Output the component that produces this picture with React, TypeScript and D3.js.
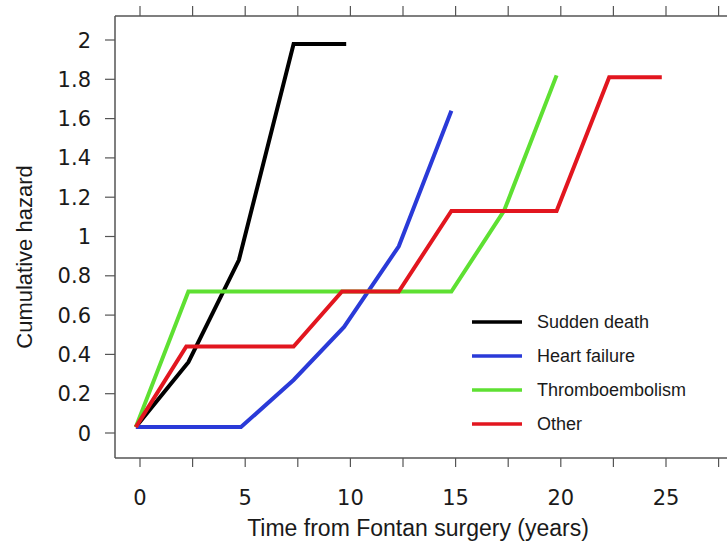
import React from 'react';
import * as d3 from 'd3';

// series: [years, cumulative hazard]
const suddenDeath: [number, number][] = [[-0.2, 0.03], [2.3, 0.36], [4.7, 0.88], [7.3, 1.98], [9.8, 1.98]];
const heartFailure: [number, number][] = [[-0.2, 0.03], [4.8, 0.03], [7.3, 0.27], [9.7, 0.54], [12.3, 0.95], [14.8, 1.64]];
const thromboembolism: [number, number][] = [[-0.2, 0.03], [2.3, 0.72], [14.8, 0.72], [17.3, 1.13], [19.8, 1.82]];
const other: [number, number][] = [[-0.2, 0.03], [2.2, 0.44], [7.3, 0.44], [9.6, 0.72], [12.3, 0.72], [14.8, 1.13], [19.8, 1.13], [22.3, 1.81], [24.8, 1.81]];

const seriesNames = ['Sudden death', 'Heart failure', 'Thromboembolism', 'Other'];
const seriesColors = ['#000000', '#2a3ad8', '#5ee032', '#e2161f'];

const xTickLabels = [0, 5, 10, 15, 20, 25];
const xTicks = [0, 2.5, 5, 7.5, 10, 12.5, 15, 17.5, 20, 22.5, 25, 27.5];
const yTicks = [0, 0.2, 0.4, 0.6, 0.8, 1, 1.2, 1.4, 1.6, 1.8, 2];

const W = 727;
const H = 543;
const frame = { left: 115, top: 16, bottom: 458, right: 727 };

export default function App() {
  const x = d3.scaleLinear().domain([0, 27.5]).range([140, 718.6]);
  const y = d3.scaleLinear().domain([0, 2]).range([433, 40]);
  const line = d3.line<[number, number]>().x(d => x(d[0])).y(d => y(d[1]));
  const data = [suddenDeath, heartFailure, thromboembolism, other];
  const axisColor = '#555';
  const tickFont = '"DejaVu Sans", sans-serif';
  const textFont = '"Liberation Sans", Arial, sans-serif';

  return (
    <div style={{ position: 'absolute', left: 0, top: 0 }}>
      <svg width={W} height={H} style={{ display: 'block', background: '#fff' }}>
        {/* frame */}
        <line x1={frame.left} x2={frame.right} y1={frame.top} y2={frame.top} stroke={axisColor} strokeWidth={1.5} />
        <line x1={frame.left} x2={frame.right} y1={frame.bottom} y2={frame.bottom} stroke={axisColor} strokeWidth={1.5} />
        <line x1={frame.left} x2={frame.left} y1={frame.top} y2={frame.bottom} stroke={axisColor} strokeWidth={1.5} />

        {/* x ticks, top and bottom */}
        {xTicks.map(t => (
          <g key={'xt' + t}>
            <line x1={x(t)} x2={x(t)} y1={frame.top} y2={frame.top - 10} stroke={axisColor} strokeWidth={1.2} />
            <line x1={x(t)} x2={x(t)} y1={frame.bottom} y2={frame.bottom + 9} stroke={axisColor} strokeWidth={1.2} />
          </g>
        ))}
        {xTickLabels.map(t => (
          <text key={'xl' + t} x={x(t)} y={505} textAnchor="middle" fontFamily={tickFont} fontSize={21} fill="#1a1a1a">
            {t}
          </text>
        ))}

        {/* y ticks */}
        {yTicks.map(t => (
          <g key={'yt' + t}>
            <line x1={frame.left - 10} x2={frame.left} y1={y(t)} y2={y(t)} stroke={axisColor} strokeWidth={1.2} />
            <text x={91} y={y(t)} dy="0.36em" textAnchor="end" fontFamily={tickFont} fontSize={21} fill="#1a1a1a">
              {d3.format('~g')(t)}
            </text>
          </g>
        ))}

        {/* series */}
        {data.map((d, i) => (
          <path key={seriesNames[i]} d={line(d) || ''} fill="none" stroke={seriesColors[i]} strokeWidth={4} strokeLinejoin="miter" />
        ))}

        {/* legend */}
        {seriesNames.map((name, i) => (
          <g key={'lg' + name} transform={`translate(472, ${322 + i * 34})`}>
            <line x1={0} x2={50} y1={0} y2={0} stroke={seriesColors[i]} strokeWidth={3.5} />
            <text x={65} y={0} dy="0.35em" fontFamily={textFont} fontSize={18} fill="#1a1a1a">
              {name}
            </text>
          </g>
        ))}

        {/* axis titles */}
        <text x={418} y={536} textAnchor="middle" fontFamily={textFont} fontSize={23} fill="#1a1a1a">
          Time from Fontan surgery (years)
        </text>
        <text transform="translate(32, 257) rotate(-90)" textAnchor="middle" fontFamily={textFont} fontSize={22} fill="#1a1a1a">
          Cumulative hazard
        </text>
      </svg>
    </div>
  );
}
